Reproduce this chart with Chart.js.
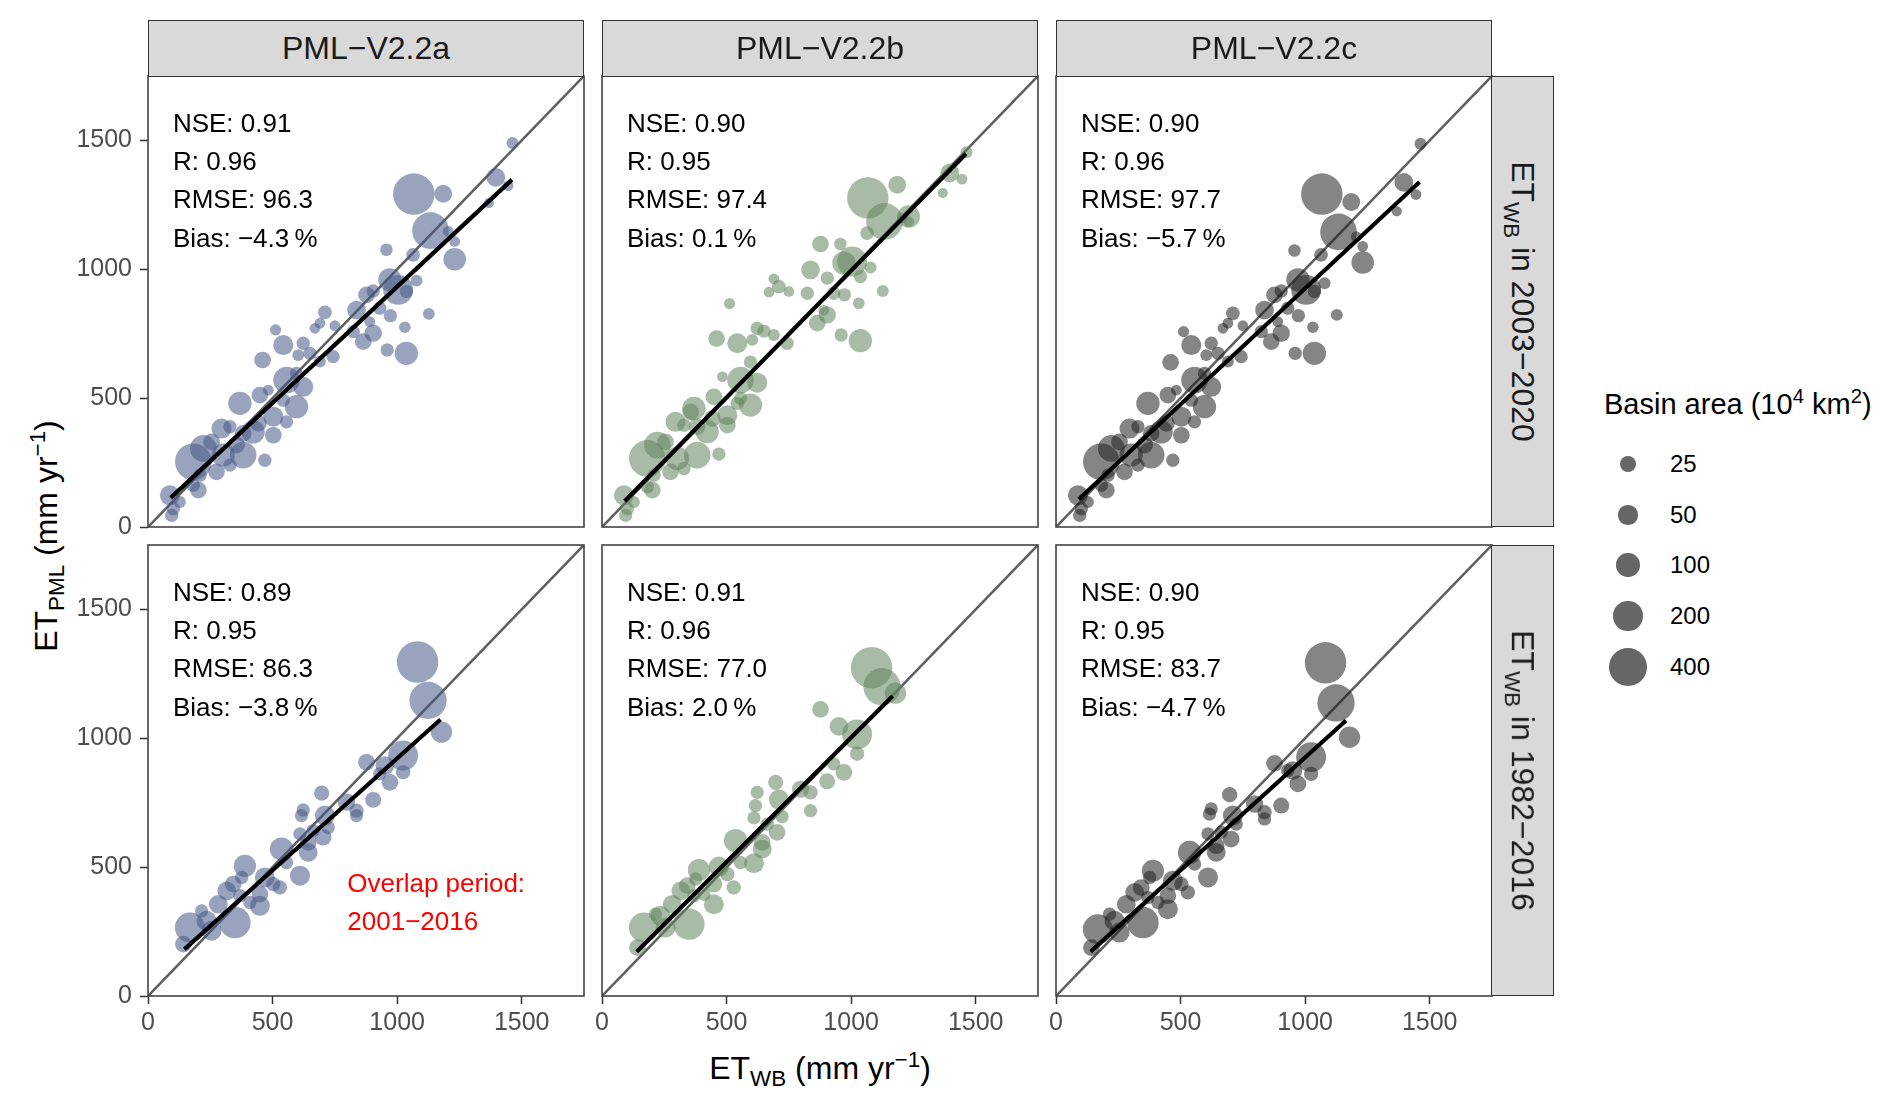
<!DOCTYPE html>
<html lang="en">
<head>
<meta charset="UTF-8">
<title>ET PML vs ET WB</title>
<script src="https://cdn.jsdelivr.net/npm/chart.js"></script>
<style>
    body { margin: 0; background: #fff; }
    #fig {
        position: relative; width: 1892px; height: 1102px; overflow: hidden;
        background: #fff; font-family: "Liberation Sans", Arial, sans-serif; color: #000;
    }
    #fig canvas { position: absolute; }
    .strip {
        position: absolute; box-sizing: border-box; background: #d9d9d9;
        border: 1.5px solid #333; color: #1a1a1a; z-index: 2;
        display: flex; align-items: center; justify-content: center;
    }
    .strip.top { font-size: 32px; }
    .strip.side span {
        display: inline-block; white-space: nowrap; font-size: 32px;
        transform: rotate(90deg);
    }
    sub, sup { font-size: 70%; line-height: 0; }
    .title { position: absolute; white-space: nowrap; font-size: 32px; }
    #xtitle { left: 820px; top: 1068px; transform: translate(-50%, -50%); }
    #ytitle { left: 46px; top: 536px; transform: translate(-50%, -50%) rotate(-90deg); }
    #legend-title { position: absolute; left: 1604px; top: 404px; font-size: 29px; white-space: nowrap; transform: translateY(-50%); }
    .key { position: absolute; border-radius: 50%; background: rgba(0, 0, 0, 0.6); }
    .key-label { position: absolute; left: 1670px; font-size: 24px; transform: translateY(-50%); }
</style>
</head>
<body>
<div id="fig">
    <div class="title" id="ytitle">ET<sub>PML</sub> (mm yr<sup>−1</sup>)</div>
    <div class="title" id="xtitle">ET<sub>WB</sub> (mm yr<sup>−1</sup>)</div>
    <div id="legend-title">Basin area (10<sup>4</sup> km<sup>2</sup>)</div>
</div>

<script>
    // ---- data ----
    const models = ['PML\u2212V2.2a', 'PML\u2212V2.2b', 'PML\u2212V2.2c'];
    const periods = ['2003\u22122020', '1982\u22122016'];
    const axisTicks = [0, 500, 1000, 1500];
    const axisMax = 1750;
    const identityLine = [0, 1750];
    const legendAreas = [25, 50, 100, 200, 400];

    // ET_WB 2003-2020 (x), basin area (10^4 km2), ET_PML per model
    const topX = [
        1463, 1396, 1445, 1368, 1067, 1185, 1134, 1205, 1231, 1231,
        957, 1064, 971, 1004, 1037, 1078, 877, 904, 837, 930,
        973, 890, 1127, 1031, 710, 690, 750, 670, 512, 904,
        824, 864, 1037, 960, 543, 623, 603, 650, 743, 690,
        460, 556, 623, 596, 369, 449, 483, 596, 543, 503,
        443, 422, 382, 295, 329, 222, 182, 255, 302, 382,
        469, 275, 329, 209, 182, 202, 88, 102, 95, 128,
        356, 503, 556];
    const topArea = [
        5, 47, 2, 1, 500, 40, 365, 2, 2, 90,
        7, 12, 100, 210, 10, 5, 30, 10, 47, 10,
        10, 2, 5, 4, 12, 2, 2, 2, 3, 35,
        10, 30, 100, 10, 60, 10, 5, 10, 10, 5,
        30, 150, 60, 10, 100, 30, 2, 100, 10, 60,
        30, 100, 30, 60, 10, 150, 365, 30, 100, 150,
        10, 30, 10, 10, 10, 30, 60, 10, 10, 5,
        30, 30, 10];
    const topA = [
        1490, 1357, 1324, 1257, 1292, 1293, 1150, 1147, 1108, 1039,
        1076, 1056, 959, 920, 914, 956, 901, 916, 842, 849,
        820, 797, 827, 775, 833, 791, 781, 771, 765, 752,
        758, 719, 674, 687, 706, 713, 667, 674, 661, 642,
        648, 570, 544, 596, 480, 512, 531, 467, 492, 428,
        402, 369, 363, 382, 389, 305, 253, 330, 279, 279,
        259, 214, 240, 201, 162, 143, 123, 71, 45, 97,
        318, 356, 408];
    const topB = [
        1454, 1374, 1350, 1296, 1277, 1328, 1186, 1200, 1185, 1205,
        1098, 1140, 1024, 1030, 972, 1007, 1098, 966, 998, 907,
        901, 841, 916, 868, 933, 963, 914, 911, 867, 823,
        907, 791, 723, 745, 713, 771, 726, 760, 713, 745,
        731, 570, 560, 640, 460, 505, 583, 473, 480, 434,
        421, 370, 390, 408, 395, 318, 266, 330, 266, 279,
        283, 214, 227, 201, 156, 143, 123, 71, 45, 97,
        447, 395, 499];
    const topC = [
        1487, 1337, 1290, 1225, 1292, 1261, 1145, 1127, 1089, 1026,
        1073, 1056, 959, 920, 914, 946, 901, 916, 842, 849,
        820, 797, 823, 775, 829, 791, 781, 771, 758, 752,
        758, 719, 674, 674, 706, 713, 667, 674, 661, 642,
        639, 570, 544, 596, 480, 512, 531, 467, 492, 428,
        402, 369, 363, 382, 389, 305, 253, 330, 279, 279,
        259, 214, 240, 201, 162, 143, 123, 71, 45, 97,
        318, 356, 408];

    // ET_WB 1982-2016 (x), basin area, ET_PML per model
    const botX = [
        1082, 1124, 1178, 1024, 877, 951, 1024, 971, 930, 697,
        904, 623, 616, 797, 837, 837, 710, 723, 610, 663,
        703, 643, 536, 643, 556, 610, 389, 469, 503, 529,
        376, 342, 316, 369, 449, 409, 449, 282, 349, 235,
        168, 255, 215, 142];
    const botArea = [
        500, 380, 75, 210, 30, 47, 15, 30, 10, 20,
        25, 10, 10, 35, 15, 10, 60, 10, 10, 10,
        30, 30, 100, 47, 10, 60, 85, 60, 15, 15,
        10, 30, 47, 10, 30, 10, 60, 47, 240, 60,
        210, 60, 10, 30];
    const botA = [
        1296, 1147, 1024, 933, 907, 894, 868, 829, 862, 787,
        761, 722, 700, 752, 719, 700, 700, 654, 629, 642,
        616, 596, 570, 557, 518, 467, 505, 460, 434, 421,
        460, 434, 408, 389, 395, 363, 350, 356, 285, 292,
        266, 253, 330, 201];
    const botB = [
        1274, 1200, 1175, 1015, 1112, 1046, 940, 868, 901, 829,
        833, 790, 739, 803, 790, 719, 762, 696, 691, 667,
        635, 596, 603, 570, 518, 515, 489, 502, 473, 421,
        454, 428, 408, 389, 434, 395, 356, 356, 279, 311,
        266, 266, 318, 188];
    const botC = [
        1293, 1137, 1004, 927, 903, 875, 862, 823, 875, 781,
        739, 726, 706, 745, 713, 687, 700, 667, 629, 635,
        609, 583, 557, 557, 512, 460, 486, 447, 434, 402,
        460, 421, 402, 382, 389, 363, 337, 356, 285, 292,
        259, 246, 318, 188];

    // fitted lines (start / end points), one entry per model
    const topFitX0 = [91, 91, 91];
    const topFitY0 = [113, 100, 108];
    const topFitX1 = [1461, 1461, 1459];
    const topFitY1 = [1348, 1448, 1339];
    const botFitX0 = [146, 139, 139];
    const botFitY0 = [181, 172, 172];
    const botFitX1 = [1174, 1167, 1164];
    const botFitY1 = [1073, 1164, 1069];

    // goodness of fit text
    const topNSE = ['0.91', '0.90', '0.90'];
    const topR = ['0.96', '0.95', '0.96'];
    const topRMSE = ['96.3', '97.4', '97.7'];
    const topBias = ['\u22124.3', '0.1', '\u22125.7'];
    const botNSE = ['0.89', '0.91', '0.90'];
    const botR = ['0.95', '0.96', '0.95'];
    const botRMSE = ['86.3', '77.0', '83.7'];
    const botBias = ['\u22123.8', '2.0', '\u22124.7'];

    const statX = 100;
    const statY = [1560, 1412, 1264, 1116];
    const noteLines = ['Overlap period:', '2001\u22122016'];
    const noteX = 800;
    const noteY = [430, 282];

    // ---- layout ----
    const FONT = '"Liberation Sans", Arial, sans-serif';
    const colLeft = [148, 602, 1056];
    const rowTop = [76, 545];
    const PW = 436, PH = 451;
    const PAD_L = 90, PAD_T = 30, PAD_R = 10, PAD_B = 50;
    const colours = ['rgba(71, 88, 135, 0.55)', 'rgba(97, 131, 93, 0.55)', 'rgba(33, 33, 33, 0.55)'];

    // ggplot-like size scale fitted to the legend keys
    function areaToRadius(a) {
        return 4.33 + 0.733 * Math.sqrt(a);
    }

    const fig = document.getElementById('fig');

    const panelDecor = {
        id: 'panelDecor',
        afterDatasetsDraw(chart, args, opts) {
            const { ctx, chartArea: a, scales: { x, y } } = chart;
            ctx.save();
            ctx.textAlign = 'left';
            ctx.textBaseline = 'middle';
            ctx.font = '26px ' + FONT;
            ctx.fillStyle = '#000';
            opts.lines.forEach((t, i) => {
                ctx.fillText(t, x.getPixelForValue(statX), y.getPixelForValue(statY[i]));
            });
            if (opts.note) {
                ctx.fillStyle = '#ff0000';
                noteLines.forEach((t, i) => {
                    ctx.fillText(t, x.getPixelForValue(noteX), y.getPixelForValue(noteY[i]));
                });
            }
            ctx.strokeStyle = '#444';
            ctx.lineWidth = 1.6;
            ctx.strokeRect(a.left, a.top, a.width, a.height);
            ctx.restore();
        }
    };

    function axisOptions(show, isX) {
        return {
            type: 'linear', min: 0, max: axisMax, offset: false,
            afterBuildTicks: s => { s.ticks = axisTicks.map(v => ({ value: v })); },
            afterFit: s => { if (isX) s.height = PAD_B; else s.width = PAD_L; },
            grid: { display: show, drawOnChartArea: false, drawTicks: true, tickLength: 8, tickColor: '#333', tickWidth: 1.5 },
            border: { display: false },
            ticks: {
                display: show, color: '#4d4d4d', padding: isX ? 4 : 8,
                font: { family: FONT, size: 25 }, maxRotation: 0, autoSkip: false,
                callback: v => String(v)
            }
        };
    }

    function makePanel(row, col, xs, ys, areas, fit, stats) {
        const canvas = document.createElement('canvas');
        canvas.width = PW + PAD_L + PAD_R;
        canvas.height = PH + PAD_T + PAD_B;
        canvas.style.left = (colLeft[col] - PAD_L) + 'px';
        canvas.style.top = (rowTop[row] - PAD_T) + 'px';
        fig.appendChild(canvas);

        const points = xs.map((x, i) => ({ x: x, y: ys[i], r: areaToRadius(areas[i]) }));

        return new Chart(canvas, {
            type: 'bubble',
            data: {
                datasets: [
                    {
                        type: 'line', order: 3, clip: 0,
                        data: identityLine.map(v => ({ x: v, y: v })),
                        borderColor: '#5e5e5e', borderWidth: 2.6, pointRadius: 0
                    },
                    {
                        type: 'bubble', order: 2, clip: 0,
                        data: points,
                        backgroundColor: colours[col], borderWidth: 0
                    },
                    {
                        type: 'line', order: 1, clip: 0,
                        data: fit,
                        borderColor: '#000', borderWidth: 4.2, pointRadius: 0, borderCapStyle: 'butt'
                    }
                ]
            },
            options: {
                responsive: false,
                animation: false,
                events: [],
                layout: { padding: { left: 0, top: PAD_T, right: PAD_R, bottom: 0 }, autoPadding: false },
                plugins: {
                    legend: { display: false },
                    tooltip: { enabled: false },
                    panelDecor: { lines: stats, note: row === 1 && col === 0 }
                },
                scales: {
                    x: axisOptions(row === 1, true),
                    y: axisOptions(col === 0, false)
                }
            },
            plugins: [panelDecor]
        });
    }

    const topY = [topA, topB, topC];
    const botY = [botA, botB, botC];

    for (let c = 0; c < 3; c++) {
        makePanel(0, c, topX, topY[c], topArea,
            [{ x: topFitX0[c], y: topFitY0[c] }, { x: topFitX1[c], y: topFitY1[c] }],
            ['NSE: ' + topNSE[c], 'R: ' + topR[c], 'RMSE: ' + topRMSE[c], 'Bias: ' + topBias[c] + '\u2009%']);
        makePanel(1, c, botX, botY[c], botArea,
            [{ x: botFitX0[c], y: botFitY0[c] }, { x: botFitX1[c], y: botFitY1[c] }],
            ['NSE: ' + botNSE[c], 'R: ' + botR[c], 'RMSE: ' + botRMSE[c], 'Bias: ' + botBias[c] + '\u2009%']);

        // model strip on top
        const s = document.createElement('div');
        s.className = 'strip top';
        s.style.left = colLeft[c] + 'px';
        s.style.top = '20px';
        s.style.width = PW + 'px';
        s.style.height = '57px';
        s.textContent = models[c];
        fig.appendChild(s);
    }

    // period strips on the right
    periods.forEach((p, r) => {
        const s = document.createElement('div');
        s.className = 'strip side';
        s.style.left = (colLeft[2] + PW - 1) + 'px';
        s.style.top = rowTop[r] + 'px';
        s.style.width = '63px';
        s.style.height = PH + 'px';
        s.innerHTML = '<span>ET<sub>WB</sub> in ' + p + '</span>';
        fig.appendChild(s);
    });

    // size legend
    const keyY = [464, 515, 565, 616, 667];
    legendAreas.forEach((a, i) => {
        const r = areaToRadius(a);
        const k = document.createElement('div');
        k.className = 'key';
        k.style.width = k.style.height = (2 * r) + 'px';
        k.style.left = (1628 - r) + 'px';
        k.style.top = (keyY[i] - r) + 'px';
        fig.appendChild(k);
        const l = document.createElement('div');
        l.className = 'key-label';
        l.style.top = keyY[i] + 'px';
        l.textContent = a;
        fig.appendChild(l);
    });
</script>
</body>
</html>
